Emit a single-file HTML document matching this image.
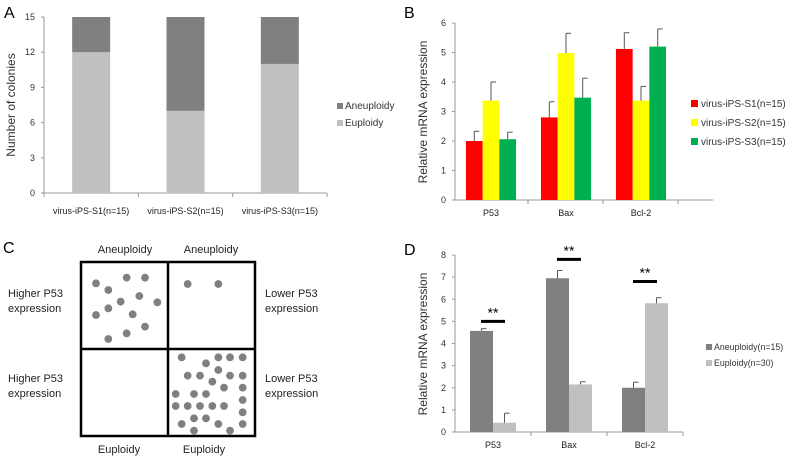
<!DOCTYPE html>
<html><head><meta charset="utf-8"><style>
body{margin:0;background:#fff}
svg{display:block;font-family:"Liberation Sans",sans-serif}
</style></head><body>
<svg id="s" width="787" height="456"></svg>
<script>
const aCats=["virus-iPS-S1(n=15)","virus-iPS-S2(n=15)","virus-iPS-S3(n=15)"];
const aEuploidy=[12,7,11];
const aAneuploidy=[3,8,4];
const aTicks=[0,3,6,9,12,15];
const bCats=["P53","Bax","Bcl-2"];
const bS1=[2.0,2.8,5.12];
const bS2=[3.37,4.98,3.37];
const bS3=[2.06,3.47,5.2];
const bS1err=[0.33,0.53,0.55];
const bS2err=[0.63,0.67,0.48];
const bS3err=[0.24,0.66,0.6];
const bTicks=[0,1,2,3,4,5,6];
const bNames=["virus-iPS-S1(n=15)","virus-iPS-S2(n=15)","virus-iPS-S3(n=15)"];
const dCats=["P53","Bax","Bcl-2"];
const dAneu=[4.57,6.95,2.0];
const dEu=[0.42,2.15,5.82];
const dAneuErr=[0.1,0.35,0.25];
const dEuErr=[0.43,0.12,0.25];
const dSigY=[5.0,7.8,6.8];
const dTicks=[0,1,2,3,4,5,6,7,8];
const cTL=[[288,190],[325,210],[380,173],[435,173],[418,228],[362,245],[472,247],[325,265],[288,285],[398,283],[435,320],[380,340],[325,357]];
const cTR=[[563,192],[655,192]];
const cBR=[[545,412],[655,412],[690,412],[728,412],[618,430],[655,450],[563,467],[600,467],[690,467],[728,467],[637,485],[672,503],[728,503],[527,522],[582,522],[618,522],[728,540],[527,558],[563,558],[600,558],[637,558],[672,558],[728,577],[582,595],[618,595],[545,612],[655,612],[728,612],[582,632],[690,632]];

const S=document.getElementById('s');const NS="http://www.w3.org/2000/svg";
function el(t,a,txt,p){const e=document.createElementNS(NS,t);for(const k in a)e.setAttribute(k,a[k]);if(txt!=null)e.textContent=txt;(p||S).appendChild(e);return e;}
function g(name){const e=el('g',{});return e;}

// Panel A
{const G=g('panel-a');
el('text',{x:4,y:18,'font-size':16},'A',G);
const y=v=>193-v*(176/15), x0=44,x1=327,cw=(x1-x0)/3;
el('line',{x1:x0,y1:17,x2:x0,y2:193,stroke:'#999'},null,G);
el('line',{x1:x0,y1:193,x2:x1,y2:193,stroke:'#999'},null,G);
aTicks.forEach(t=>{el('line',{x1:x0-3,y1:y(t),x2:x0,y2:y(t),stroke:'#999'},null,G);
 const tx=el('text',{x:35,y:y(t)+3,'font-size':9,'text-anchor':'end',fill:'#333'},t,G);});
for(let i=0;i<=3;i++)el('line',{x1:x0+i*cw,y1:193,x2:x0+i*cw,y2:197,stroke:'#999'},null,G);
aCats.forEach((c,i)=>{const cx=x0+cw*(i+0.5),bw=38;
 const e1=el('rect',{x:cx-bw/2,y:y(aEuploidy[i]),width:bw,height:193-y(aEuploidy[i]),fill:'#c0c0c0'},null,G);
 
 const e2=el('rect',{x:cx-bw/2,y:y(aEuploidy[i]+aAneuploidy[i]),width:bw,height:y(aEuploidy[i])-y(aEuploidy[i]+aAneuploidy[i]),fill:'#808080'},null,G);
 
 el('text',{x:cx,y:214,'font-size':9,'text-anchor':'middle',fill:'#222'},c,G);});
el('text',{x:0,y:0,'font-size':12,'text-anchor':'middle',fill:'#333',transform:'translate(15,105) rotate(-90)'},'Number of colonies',G);
el('rect',{x:337,y:103,width:6,height:6,fill:'#808080'},null,G);
el('text',{x:345,y:109,'font-size':10,fill:'#333'},'Aneuploidy',G);
el('rect',{x:337,y:120,width:6,height:6,fill:'#c0c0c0'},null,G);
el('text',{x:345,y:126,'font-size':10,fill:'#333'},'Euploidy',G);}

// Panel B
{const G=g('panel-b');
el('text',{x:404,y:18,'font-size':16},'B',G);
const y=v=>200-v*(177/6),x0=455,x1=713,cw=75,start=454;
el('line',{x1:x0,y1:23,x2:x0,y2:200,stroke:'#999'},null,G);
el('line',{x1:x0,y1:200,x2:x1,y2:200,stroke:'#999'},null,G);
bTicks.forEach(t=>{el('line',{x1:x0-3,y1:y(t),x2:x0,y2:y(t),stroke:'#999'},null,G);
 el('text',{x:446,y:y(t)+3,'font-size':9,'text-anchor':'end',fill:'#333'},t,G);});
for(let i=1;i<=3;i++)el('line',{x1:start+i*cw-1,y1:200,x2:start+i*cw-1,y2:204,stroke:'#999'},null,G);
const ser=[[bS1,bS1err,'#ff0000'],[bS2,bS2err,'#ffff00'],[bS3,bS3err,'#00b050']];
bCats.forEach((c,i)=>{const cx=start+cw*i+37,bw=16.7;
 ser.forEach((s,j)=>{const bx=cx-bw*1.5+j*bw,v=s[0][i],e=s[1][i];
  const r=el('rect',{x:bx,y:y(v),width:bw,height:200-y(v),fill:s[2]},null,G);
  
  const mx=bx+bw/2;el('line',{x1:mx,y1:y(v),x2:mx,y2:y(v+e),stroke:'#555'},null,G);
  el('line',{x1:mx,y1:y(v+e),x2:mx+5,y2:y(v+e),stroke:'#555'},null,G);});
 el('text',{x:cx,y:216,'font-size':9,'text-anchor':'middle',fill:'#222'},c,G);});
el('text',{x:0,y:0,'font-size':12,'text-anchor':'middle',fill:'#333',transform:'translate(427,112) rotate(-90)'},'Relative mRNA expression',G);
ser.forEach((s,j)=>{el('rect',{x:691,y:100+j*19,width:7,height:7,fill:s[2]},null,G);
 el('text',{x:701,y:107+j*19,'font-size':10,fill:'#333'},bNames[j],G);});}

// Panel C
{const G=g('panel-c');
el('text',{x:3,y:253,'font-size':16},'C',G);
el('rect',{x:81,y:262,width:174,height:174,fill:'none',stroke:'#000','stroke-width':2.5},null,G);
el('line',{x1:168,y1:262,x2:168,y2:436,stroke:'#000','stroke-width':2.5},null,G);
el('line',{x1:81,y1:349,x2:255,y2:349,stroke:'#000','stroke-width':2.5},null,G);
[[125,253,'Aneuploidy'],[211,253,'Aneuploidy'],[119,453,'Euploidy'],[204,453,'Euploidy']].forEach(a=>el('text',{x:a[0],y:a[1],'font-size':11,'text-anchor':'middle',fill:'#222'},a[2],G));
[[8,297,'Higher P53'],[8,312,'expression'],[8,382,'Higher P53'],[8,397,'expression'],[265,297,'Lower P53'],[265,312,'expression'],[265,382,'Lower P53'],[265,397,'expression']].forEach(a=>el('text',{x:a[0],y:a[1],'font-size':11,fill:'#222'},a[2],G));
[cTL,cTR,cBR].forEach(arr=>arr.forEach(p=>{const c=el('circle',{cx:p[0]/3,cy:p[1]/3+220,r:3.9,fill:'#808080'},null,G);}));}

// Panel D
{const G=g('panel-d');
el('text',{x:404,y:255,'font-size':16},'D',G);
const y=v=>432-v*(177/8),x0=455,x1=683,start=455,cw=76;
el('line',{x1:x0,y1:255,x2:x0,y2:432,stroke:'#999'},null,G);
el('line',{x1:x0,y1:432,x2:x1,y2:432,stroke:'#999'},null,G);
dTicks.forEach(t=>{el('line',{x1:x0-3,y1:y(t),x2:x0,y2:y(t),stroke:'#999'},null,G);
 el('text',{x:446,y:y(t)+3,'font-size':9,'text-anchor':'end',fill:'#333'},t,G);});
for(let i=1;i<=3;i++)el('line',{x1:start+i*cw,y1:432,x2:start+i*cw,y2:436,stroke:'#999'},null,G);
const ser=[[dAneu,dAneuErr,'#808080'],[dEu,dEuErr,'#c0c0c0']];
dCats.forEach((c,i)=>{const cx=start+cw*i+38,bw=23;
 ser.forEach((s,j)=>{const bx=cx-bw+j*bw,v=s[0][i],e=s[1][i];
  const r=el('rect',{x:bx,y:y(v),width:bw,height:432-y(v),fill:s[2]},null,G);
  
  const mx=bx+bw/2;el('line',{x1:mx,y1:y(v),x2:mx,y2:y(v+e),stroke:'#555'},null,G);
  el('line',{x1:mx,y1:y(v+e),x2:mx+5,y2:y(v+e),stroke:'#555'},null,G);});
 const sy=y(dSigY[i]);
 el('line',{x1:cx-12,y1:sy,x2:cx+12,y2:sy,stroke:'#000','stroke-width':3},null,G);
 el('text',{x:cx,y:sy-4,'font-size':14,'text-anchor':'middle',fill:'#000'},'**',G);
 el('text',{x:cx,y:448,'font-size':9,'text-anchor':'middle',fill:'#222'},c,G);});
el('text',{x:0,y:0,'font-size':12,'text-anchor':'middle',fill:'#333',transform:'translate(427,344) rotate(-90)'},'Relative mRNA expression',G);
[['Aneuploidy(n=15)','#808080'],['Euploidy(n=30)','#c0c0c0']].forEach((l,j)=>{el('rect',{x:706,y:344+j*16,width:6,height:6,fill:l[1]},null,G);
 el('text',{x:714,y:350+j*16,'font-size':8.8,fill:'#333'},l[0],G);});}
</script>
</body></html>
